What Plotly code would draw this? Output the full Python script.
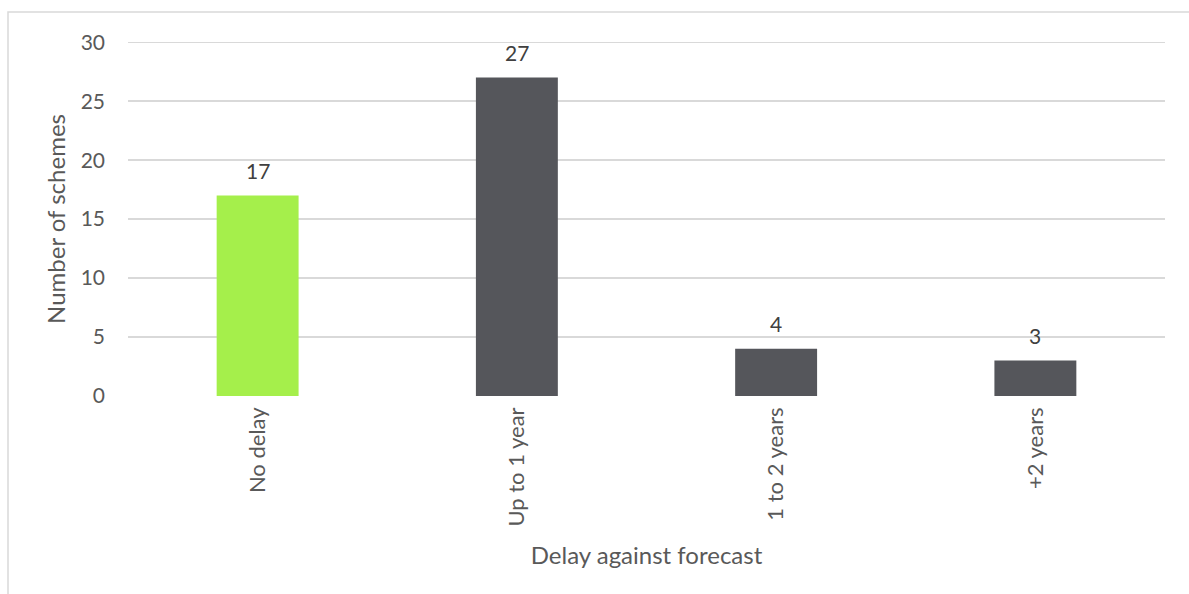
import plotly.graph_objects as go

categories = ["No delay", "Up to 1 year", "1 to 2 years", "+2 years"]
schemes = [17, 27, 4, 3]
bar_colors = ["#a5ef4b", "#55565b", "#55565b", "#55565b"]
y_ticks = [0, 5, 10, 15, 20, 25, 30]

FONT = "Lato, 'Open Sans', sans-serif"
TEXT = "#595959"
GRID = "#d9d9d9"

W, H = 1189, 594
L, R, T, B = 128, 24, 42, 198
pw, ph = W - L - R, H - T - B

fig = go.Figure(
    go.Bar(
        x=categories,
        y=schemes,
        marker=dict(color=bar_colors, line=dict(width=0)),
        width=0.316,
        hoverinfo="skip",
    )
)

# value labels above each bar
for cat, val in zip(categories, schemes):
    fig.add_annotation(
        x=cat, y=val, text=str(val), showarrow=False,
        yanchor="middle", yshift=25,
        font=dict(family=FONT, size=21, color="#404040"),
    )

# gridline at the top of the value range (sits on the plot edge)
fig.add_shape(
    type="line", xref="paper", yref="y",
    x0=0, x1=1, y0=y_ticks[-1], y1=y_ticks[-1],
    line=dict(color=GRID, width=1.5), layer="below",
)

# thin frame around the chart area
fig.add_shape(
    type="rect", xref="paper", yref="paper",
    x0=(8 - L) / pw, x1=(W + 20 - L) / pw,
    y0=-(H + 20 - T - ph) / ph, y1=1 + (T - 12) / ph,
    line=dict(color=GRID, width=1.5), layer="below",
)

fig.update_layout(
    width=W, height=H,
    margin=dict(l=L, r=R, t=T, b=B, autoexpand=False),
    paper_bgcolor="white", plot_bgcolor="white",
    showlegend=False,
    font=dict(family=FONT, size=21, color=TEXT),
    xaxis=dict(
        tickangle=-90, showgrid=False, showline=False, zeroline=False,
        ticks="", ticklabelstandoff=6, tickfont=dict(size=22, color=TEXT),
        title=dict(text="Delay against forecast", standoff=21,
                   font=dict(size=24, color=TEXT)),
    ),
    yaxis=dict(
        range=[0, 30.02], tickvals=y_ticks, showgrid=True,
        gridcolor=GRID, gridwidth=1.5, zeroline=False, showline=False,
        ticks="", ticklabelstandoff=22, tickfont=dict(size=21, color=TEXT),
        title=dict(text="Number of schemes", standoff=8,
                   font=dict(size=24, color=TEXT)),
    ),
)

fig.write_html("out.html")
